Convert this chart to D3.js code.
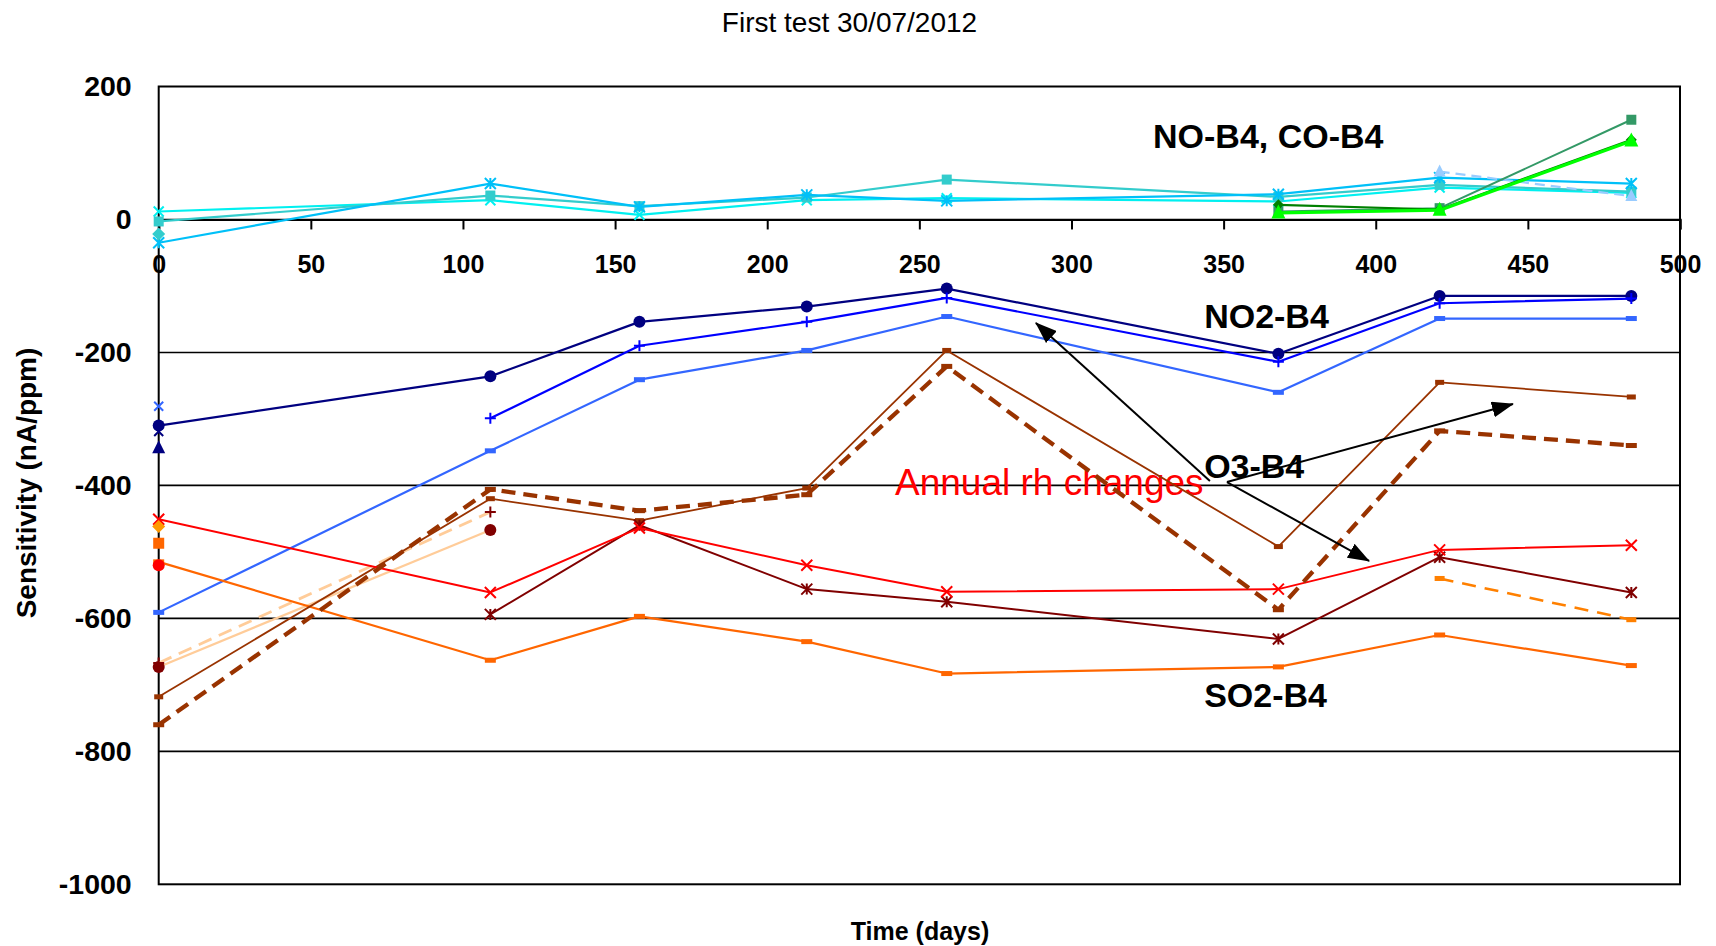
<!DOCTYPE html>
<html><head><meta charset="utf-8">
<script src="https://cdn.jsdelivr.net/npm/d3@7"></script>
<style>
html,body{margin:0;padding:0;background:#fff;}
svg{display:block;font-family:"Liberation Sans",Arial,sans-serif;}
</style></head><body>
<svg id="chart" width="1716" height="946"></svg>
<script>
// Measurement days
const days = [0, 109, 158, 213, 259, 368, 421, 484];

// NO-B4 / CO-B4 sensitivities (nA/ppm)
const noDeepSky   = [-35, 54, 19, 37, 28, 38, 63, 54];
const noTurquoise = [-3, 36, 20, 33, 60, 34, 52, 42];
const noCyan      = [12, 29, 7, 29, 32, 27, 48, 40];
const noLightBlue = [null, null, null, null, null, null, 72, 35];
const coDarkGreen = [null, null, null, null, null, 22, 15, 120];
const coGreen     = [null, null, null, null, null, 10, 14, 118];
const coSeaGreen  = [null, null, null, null, null, 12, 17, 150];

// NO2-B4
const no2Navy       = [-310, -236, -154, -131, -104, -202, -115, -115];
const no2Blue       = [null, -299, -190, -154, -118, -214, -126, -119];
const no2Cornflower = [-591, -348, -241, -197, -146, -260, -149, -149];

// O3-B4
const o3Brown       = [-718, -420, -453, -404, -197, -492, -245, -267];
const o3BrownDashed = [-760, -406, -438, -414, -221, -587, -318, -340];
const o3PeachDashed = [-667, -440, null, null, null, null, null, null];
const o3Peach       = [-673, -467, null, null, null, null, null, null];

// SO2-B4
const so2Red          = [-451, -561, -464, -520, -560, -556, -497, -490];
const so2DarkRed      = [null, -594, -460, -556, -575, -631, -508, -561];
const so2Orange       = [-515, -663, -597, -635, -683, -673, -625, -671];
const so2OrangeDashed = [null, null, null, null, null, null, -540, -602];

// Single day-0 readings
const singleValues = [-22, -281, -319, -344, -462, -487, -520];

// Axis ticks
const xTicks = [0, 50, 100, 150, 200, 250, 300, 350, 400, 450, 500];
const yTicks = [200, 0, -200, -400, -600, -800, -1000];
const yGrid = [-200, -400, -600, -800];

const svg = d3.select("#chart");
const L = 158.7, R = 1680, T = 86.5, B = 884.3;
const x = d3.scaleLinear().domain([0, 500]).range([L, R]);
const y = d3.scaleLinear().domain([-1000, 200]).range([B, T]);

// Title
svg.append("text").attr("x", 849.5).attr("y", 32).attr("text-anchor", "middle")
  .attr("font-size", 28).text("First test 30/07/2012");

// Gridlines
svg.append("g").selectAll("line").data(yGrid).join("line")
  .attr("x1", L).attr("x2", R).attr("y1", d => y(d)).attr("y2", d => y(d))
  .attr("stroke", "#000").attr("stroke-width", 1.6);

// Frame
svg.append("rect").attr("x", L).attr("y", T).attr("width", R - L).attr("height", B - T)
  .attr("fill", "none").attr("stroke", "#000").attr("stroke-width", 2);

// X axis through zero
const xAxis = d3.axisBottom(x).tickValues(xTicks).tickSize(10).tickPadding(26).tickFormat(d => String(d));
const gx = svg.append("g").attr("transform", `translate(0,${y(0)})`).call(xAxis);
gx.select(".domain").attr("stroke-width", 2.2);
gx.selectAll(".tick line").attr("stroke-width", 2);
gx.selectAll(".tick text").attr("font-size", 25).attr("font-weight", "bold")
  .attr("font-family", "Liberation Sans, Arial, sans-serif").attr("fill", "#000");

// Y tick labels
const yAxis = d3.axisLeft(y).tickValues(yTicks).tickSize(0).tickPadding(27).tickFormat(d => String(d));
const gy = svg.append("g").attr("transform", `translate(${L},0)`).call(yAxis);
gy.select(".domain").remove();
gy.selectAll(".tick text").attr("font-size", 28.5).attr("font-weight", "bold")
  .attr("font-family", "Liberation Sans, Arial, sans-serif").attr("fill", "#000");

// Axis titles
svg.append("text").attr("transform", "translate(36,483) rotate(-90)").attr("text-anchor", "middle")
  .attr("font-size", 28).attr("font-weight", "bold").text("Sensitivity (nA/ppm)");
svg.append("text").attr("x", 920).attr("y", 940).attr("text-anchor", "middle")
  .attr("font-size", 25).attr("font-weight", "bold").text("Time (days)");

// Annotation text (positions in data units)
svg.append("text").attr("x", x(242)).attr("y", y(-414)).attr("font-size", 37)
  .attr("fill", "#ff0000").text("Annual rh changes");

// Marker shapes
function drawMarker(g, type, cx, cy, color, size) {
  const s = size;
  if (type === "circle") {
    g.append("circle").attr("cx", cx).attr("cy", cy).attr("r", s / 2).attr("fill", color);
  } else if (type === "square") {
    g.append("rect").attr("x", cx - s / 2).attr("y", cy - s / 2).attr("width", s).attr("height", s).attr("fill", color);
  } else if (type === "dash") {
    g.append("rect").attr("x", cx - s / 2).attr("y", cy - 2.5).attr("width", s).attr("height", 5).attr("fill", color);
  } else if (type === "diamond") {
    g.append("path").attr("d", `M${cx},${cy - s / 2}L${cx + s / 2},${cy}L${cx},${cy + s / 2}L${cx - s / 2},${cy}Z`).attr("fill", color);
  } else if (type === "triangle") {
    g.append("path").attr("d", `M${cx},${cy - s * 0.6}L${cx + s / 2},${cy + s * 0.4}L${cx - s / 2},${cy + s * 0.4}Z`).attr("fill", color);
  } else {
    const h = s / 2;
    let d = "";
    if (type === "x" || type === "star") d += `M${cx - h},${cy - h}L${cx + h},${cy + h}M${cx - h},${cy + h}L${cx + h},${cy - h}`;
    if (type === "star") d += `M${cx},${cy - h}L${cx},${cy + h}`;
    if (type === "plus") d += `M${cx - h},${cy}L${cx + h},${cy}M${cx},${cy - h}L${cx},${cy + h}`;
    g.append("path").attr("d", d).attr("stroke", color).attr("stroke-width", 2).attr("fill", "none");
  }
}

const series = [
  { v: noCyan, color: "#00f0f0", w: 2.2, marker: "x", ms: 10 },
  { v: noTurquoise, color: "#33cccc", w: 2.2, marker: "square", ms: 10 },
  { v: noDeepSky, color: "#00c0f8", w: 2.2, marker: "star", ms: 11 },
  { v: noLightBlue, color: "#99ccff", w: 2.2, dash: "10,6", marker: "triangle", ms: 12 },
  { v: coSeaGreen, color: "#339966", w: 2, marker: "square", ms: 10 },
  { v: coDarkGreen, color: "#008000", w: 2.2, marker: "diamond", ms: 11 },
  { v: coGreen, color: "#00ff00", w: 3.2, marker: "triangle", ms: 14 },
  { v: no2Cornflower, color: "#3366ff", w: 2.2, marker: "dash", ms: 11 },
  { v: no2Navy, color: "#000080", w: 2.2, marker: "circle", ms: 12 },
  { v: no2Blue, color: "#0000ff", w: 2.2, marker: "plus", ms: 11 },
  { v: o3Peach, color: "#ffcc99", w: 2.2, marker: "circle", mcolor: "#800000", ms: 12 },
  { v: o3PeachDashed, color: "#ffcc99", w: 2.8, dash: "14,8", marker: "plus", mcolor: "#800000", ms: 11 },
  { v: so2Orange, color: "#ff6600", w: 2.2, marker: "dash", ms: 11 },
  { v: so2OrangeDashed, color: "#ff8000", w: 2.6, dash: "14,9", marker: "dash", ms: 10 },
  { v: o3Brown, color: "#993300", w: 1.8, marker: "dash", ms: 9 },
  { v: so2DarkRed, color: "#800000", w: 2, marker: "star", ms: 11 },
  { v: so2Red, color: "#ff0000", w: 2, marker: "x", ms: 11 },
  { v: o3BrownDashed, color: "#993300", w: 4.3, dash: "14,8", marker: "dash", ms: 11 }
];

const singles = [
  { v: singleValues[0], color: "#33cccc", marker: "diamond", ms: 13 },
  { v: singleValues[1], color: "#3366ff", marker: "x", ms: 9 },
  { v: singleValues[2], color: "#000080", marker: "x", ms: 9 },
  { v: singleValues[3], color: "#000080", marker: "triangle", ms: 13 },
  { v: singleValues[4], color: "#ff9900", marker: "diamond", ms: 13 },
  { v: singleValues[5], color: "#ff6600", marker: "square", ms: 11 },
  { v: singleValues[6], color: "#ff0000", marker: "circle", ms: 12 }
];

const line = d3.line().defined(d => d.v != null).x(d => x(d.t)).y(d => y(d.v));
const gSeries = svg.append("g");
series.forEach(s => {
  const pts = days.map((t, i) => ({ t, v: s.v[i] }));
  const g = gSeries.append("g");
  g.append("path").datum(pts).attr("d", line).attr("fill", "none")
    .attr("stroke", s.color).attr("stroke-width", s.w)
    .attr("stroke-dasharray", s.dash || null).attr("stroke-linejoin", "round");
  pts.filter(p => p.v != null).forEach(p => drawMarker(g, s.marker, x(p.t), y(p.v), s.mcolor || s.color, s.ms));
});
const gSingles = svg.append("g");
singles.forEach(s => drawMarker(gSingles, s.marker, x(0), y(s.v), s.color, s.ms));

// Group labels
const labels = [
  { text: "NO-B4, CO-B4", t: 326.8, v: 107.5 },
  { text: "NO2-B4", t: 343.6, v: -162.7 },
  { text: "O3-B4", t: 343.6, v: -388.8 },
  { text: "SO2-B4", t: 343.6, v: -733 }
];
svg.append("g").selectAll("text").data(labels).join("text")
  .attr("x", d => x(d.t)).attr("y", d => y(d.v)).attr("font-size", 34).attr("font-weight", "bold")
  .text(d => d.text);

// Arrows
const defs = svg.append("defs");
defs.append("marker").attr("id", "arrowhead").attr("markerUnits", "userSpaceOnUse")
  .attr("viewBox", "0 0 22 16").attr("markerWidth", 22).attr("markerHeight", 16)
  .attr("refX", 21).attr("refY", 8).attr("orient", "auto")
  .append("path").attr("d", "M0,0L22,8L0,16Z").attr("fill", "#000");
const arrows = [
  { t0: 345.5, v0: -393.3, t1: 288.3, v1: -155.7 },
  { t0: 351.1, v0: -394.9, t1: 445.1, v1: -277.5 },
  { t0: 351.1, v0: -394.9, t1: 397.8, v1: -513.7 }
];
svg.append("g").selectAll("line").data(arrows).join("line")
  .attr("x1", d => x(d.t0)).attr("y1", d => y(d.v0)).attr("x2", d => x(d.t1)).attr("y2", d => y(d.v1))
  .attr("stroke", "#000").attr("stroke-width", 2).attr("marker-end", "url(#arrowhead)");
</script>
</body></html>
